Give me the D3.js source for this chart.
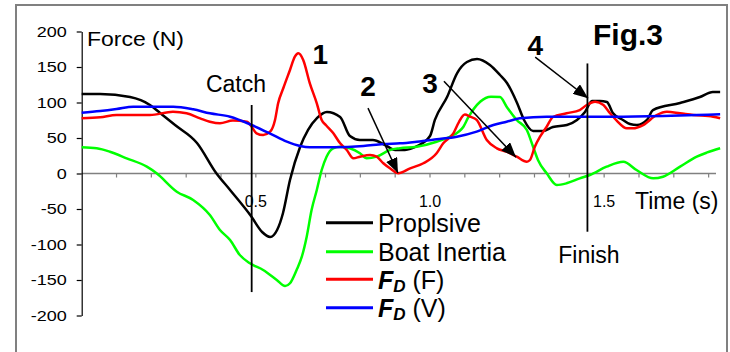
<!DOCTYPE html>
<html><head><meta charset="utf-8">
<script src="https://cdn.jsdelivr.net/npm/d3@7/dist/d3.min.js"></script>
<style>
html,body{margin:0;padding:0;background:#fff;}
svg{display:block;font-family:"Liberation Sans",Arial,sans-serif;}
</style></head>
<body><svg id="c" width="730" height="352"></svg>
<script>
// ---- data (time in s, force in N) ----
const propTime  = [0.00,0.053,0.139,0.196,0.225,0.268,0.331,0.386,0.426,0.486,0.518,0.541,0.561,0.578,0.598,0.627,0.650,0.676,0.704,0.742,0.770,0.799,0.836,0.871,0.900,0.928,0.963,1.000,1.014,1.049,1.078,1.106,1.135,1.172,1.201,1.221,1.250,1.270,1.296,1.324,1.353,1.393,1.422,1.445,1.465,1.488,1.508,1.525,1.554,1.574,1.594,1.623,1.640,1.718,1.775,1.812,1.833];
const propForce = [112,112,107.7,96.5,85.2,68.3,43,0.7,-23.2,-59.9,-82.4,-89.4,-79.6,-55.6,-9.2,37.3,61.3,78.2,86.6,79.6,52.8,47.2,47.2,40.1,33.1,33.1,38.7,52.8,75.4,107.7,141.5,157,161.3,152.8,138.7,127.5,99.3,75.4,59.9,59.9,65.5,68.3,75.4,86.6,102.1,102.1,100.7,85.2,75.4,69.7,68.3,75.4,89.4,99.3,107.7,114.8,114.8];

const inertiaTime  = [0.00,0.043,0.081,0.129,0.187,0.215,0.273,0.320,0.368,0.397,0.426,0.454,0.483,0.521,0.560,0.584,0.598,0.617,0.632,0.646,0.660,0.675,0.689,0.703,0.722,0.742,0.770,0.799,0.818,0.847,0.885,0.914,0.962,1.019,1.057,1.096,1.109,1.144,1.175,1.201,1.220,1.249,1.278,1.296,1.310,1.335,1.364,1.392,1.430,1.459,1.507,1.555,1.593,1.641,1.669,1.718,1.766,1.794,1.833];
const inertiaForce = [36.9,35.5,30.7,21.4,9.6,0.3,-25.6,-37.3,-58.5,-79.6,-93.7,-114.8,-126.5,-135.9,-150,-158.5,-154.6,-135.9,-117.2,-89,-51.4,-23.2,4.9,23.7,35.5,37.7,35.5,28.5,21.4,23.7,33.1,35.5,37.7,44.8,51.8,65.9,78.2,101.1,108.2,107.7,94.1,75.4,61.3,37.7,19,0.3,-16.2,-13.8,-6.8,-2.1,9.6,16.6,4.9,-6.8,-4.5,9.6,23.7,29.3,35.5];

const fdfTime  = [0.00,0.053,0.100,0.196,0.262,0.301,0.340,0.368,0.397,0.434,0.474,0.488,0.502,0.521,0.541,0.555,0.564,0.579,0.598,0.612,0.622,0.636,0.655,0.675,0.689,0.701,0.722,0.742,0.761,0.780,0.799,0.828,0.847,0.866,0.885,0.909,0.943,0.981,1.019,1.038,1.067,1.083,1.100,1.115,1.134,1.163,1.192,1.220,1.249,1.278,1.287,1.301,1.316,1.335,1.353,1.392,1.430,1.450,1.474,1.498,1.517,1.536,1.565,1.583,1.612,1.651,1.680,1.718,1.756,1.813,1.833];
const fdfForce = [77.7,79.2,82.4,82.4,87,84.8,77.7,73,70.7,74.6,73,65.9,56.6,54.2,58.9,75.4,98.9,120.4,145.8,164.5,169.3,159.9,127,98.9,75.4,68.3,57,42.5,33.1,21.4,23.7,26.1,23.7,14.4,7.3,0.3,7.3,14.4,28.5,42.5,56.6,72.5,83,80,75.4,47.2,35.5,30.7,23.7,16.6,19,37.7,51.8,65.9,79.6,84.8,89.4,96.5,101.1,96.5,84.8,74.6,63.7,63.7,68.3,82.4,87,84.8,82.4,80,77.7];

const fdvTime  = [0.00,0.053,0.100,0.148,0.263,0.320,0.368,0.426,0.488,0.541,0.589,0.627,0.655,0.722,0.809,0.866,0.914,0.962,1.019,1.077,1.134,1.182,1.220,1.258,1.335,1.525,1.669,1.766,1.833];
const fdvForce = [85.6,88,90.8,94.1,94.1,90.4,84.8,80,68.3,56.3,44.8,38.7,36.9,36.9,38.7,41.5,42.5,44.8,48.2,51.8,58.9,68.3,73,77.7,80,80,81,82.4,83.4];

const yTicks = [-200,-150,-100,-50,0,50,100,150,200];
const xTickValues = [0.1,0.2,0.3,0.4,0.5,0.6,0.7,0.8,0.9,1.0,1.1,1.2,1.3,1.4,1.5,1.6,1.7,1.8];
const xTickLabels = [{t:0.5,label:"0.5"},{t:1.0,label:"1.0"},{t:1.5,label:"1.5"}];

const seriesNames = ["Proplsive","Boat Inertia","FD(F)","FD(V)"];
const seriesColors = ["#000000","#00ff00","#ff0000","#0000ff"];

// annotations in data coords
const markers = [{name:"Catch", t:0.488, top:96.5, bottom:-167},{name:"Finish", t:1.452, top:155, bottom:-82}];
const numLabels = [{txt:"1",t:0.685,v:154},{txt:"2",t:0.822,v:109},{txt:"3",t:1.0,v:113},{txt:"4",t:1.302,v:167}];
const arrows = [{t0:0.822,v0:92,t1:0.908,v1:0.7},{t0:1.040,v0:130,t1:1.247,v1:23},{t0:1.302,v0:164,t1:1.454,v1:106}];

// ---- drawing ----
const svg = d3.select("#c");
const x = d3.scaleLinear().domain([0,1.8]).range([81.7, 81.7+1.8*348.3]);
const y = d3.scaleLinear().domain([-200,200]).range([315.5,31.5]);

svg.append("defs").append("marker").attr("id","ah")
  .attr("markerUnits","userSpaceOnUse").attr("markerWidth",16).attr("markerHeight",12)
  .attr("refX",15).attr("refY",6).attr("orient","auto")
  .append("path").attr("d","M0,0 L15,6 L0,12 Z").attr("fill","#000");

// frame
svg.append("rect").attr("x",16).attr("y",5).attr("width",711).attr("height",360)
  .attr("fill","none").attr("stroke","#808080").attr("stroke-width",2);

// x axis
const xAxisY = y(0);
svg.append("line").attr("x1",x(0)).attr("x2",716).attr("y1",xAxisY).attr("y2",xAxisY)
  .attr("stroke","#808080").attr("stroke-width",1.5);
svg.append("g").selectAll("line").data(xTickValues).join("line")
  .attr("x1",d=>x(d)).attr("x2",d=>x(d)).attr("y1",xAxisY).attr("y2",xAxisY+4)
  .attr("stroke","#808080").attr("stroke-width",1.2);
svg.append("g").selectAll("text").data(xTickLabels).join("text")
  .attr("x",d=>x(d.t)).attr("y",207).attr("text-anchor","middle")
  .attr("font-size",16).text(d=>d.label);

// y axis
const yAxis = d3.axisLeft(y).tickValues(yTicks).tickSize(5).tickSizeOuter(0).tickFormat(d=>String(d));
const gy = svg.append("g").attr("transform",`translate(${x(0)},0)`).call(yAxis);
gy.select(".domain").attr("stroke","#000").attr("stroke-width",1.2);
gy.selectAll(".tick line").attr("stroke","#000").attr("stroke-width",1.2);
gy.selectAll(".tick text").attr("font-family","Liberation Sans, Arial, sans-serif")
  .attr("font-size",15).attr("fill","#000").attr("x",-15)
  .each(function(){ const w=this.getComputedTextLength(); d3.select(this).attr("textLength",w*1.2).attr("lengthAdjust","spacingAndGlyphs"); });

// labels
svg.append("text").attr("x",87).attr("y",46).attr("font-size",20).text("Force (N)")
  .attr("textLength",97).attr("lengthAdjust","spacingAndGlyphs");
svg.append("text").attr("x",635).attr("y",209).attr("font-size",23).text("Time (s)");
svg.append("text").attr("x",593).attr("y",45).attr("font-size",30).attr("font-weight","bold").text("Fig.3");

// series
const allSeries = [[propTime,propForce],[inertiaTime,inertiaForce],[fdfTime,fdfForce],[fdvTime,fdvForce]];
const line = d3.line().x(d=>x(d[0])).y(d=>y(d[1])).curve(d3.curveMonotoneX);
allSeries.forEach((s,i)=>{
  const pts = s[0].map((t,k)=>[t,s[1][k]]);
  svg.append("path").datum(pts).attr("d",line).attr("fill","none")
    .attr("stroke",seriesColors[i]).attr("stroke-width",2.5).attr("stroke-linejoin","round");
});

// markers
markers.forEach(m=>{
  svg.append("line").attr("x1",x(m.t)).attr("x2",x(m.t)).attr("y1",y(m.top)).attr("y2",y(m.bottom))
    .attr("stroke","#000").attr("stroke-width",1.8);
});
svg.append("text").attr("x",236).attr("y",92).attr("text-anchor","middle").attr("font-size",23).text("Catch");
svg.append("text").attr("x",589).attr("y",263).attr("text-anchor","middle").attr("font-size",23).text("Finish");

// numbers and arrows
svg.append("g").selectAll("text").data(numLabels).join("text")
  .attr("x",d=>x(d.t)).attr("y",d=>y(d.v)).attr("text-anchor","middle")
  .attr("font-size",28).attr("font-weight","bold").text(d=>d.txt);
svg.append("g").selectAll("line").data(arrows).join("line")
  .attr("x1",d=>x(d.t0)).attr("y1",d=>y(d.v0)).attr("x2",d=>x(d.t1)).attr("y2",d=>y(d.v1))
  .attr("stroke","#000").attr("stroke-width",1.5).attr("marker-end","url(#ah)");

// legend
const legY = [222.7,251.7,279.3,307.7];
const leg = svg.append("g");
seriesNames.forEach((n,i)=>{
  leg.append("line").attr("x1",326).attr("x2",373).attr("y1",legY[i]).attr("y2",legY[i])
    .attr("stroke",seriesColors[i]).attr("stroke-width",3);
  const t = leg.append("text").attr("x",378).attr("y",legY[i]+9.5).attr("font-size",25);
  if(i<2){ t.text(n); }
  else {
    t.append("tspan").attr("font-weight","bold").attr("font-style","italic").text("F");
    t.append("tspan").attr("font-weight","bold").attr("font-style","italic").attr("font-size",17).attr("dy",3).text("D");
    t.append("tspan").attr("dy",-3).text(i===2?" (F)":" (V)");
  }
});
</script></body></html>
